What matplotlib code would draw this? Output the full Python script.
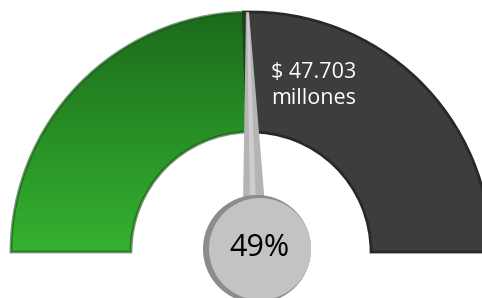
import numpy as np
import matplotlib
matplotlib.use("Agg")
import matplotlib.pyplot as plt
from matplotlib.patches import Wedge, Circle, Polygon

# datos del indicador
porcentaje = 49
monto = "$ 47.703"
unidad = "millones"

plt.rcParams['font.family'] = ['Open Sans', 'DejaVu Sans']

fig = plt.figure(figsize=(4.82, 2.98), dpi=100)
ax = fig.add_axes([0, 0, 1, 1])
ax.set_xlim(0, 482)
ax.set_ylim(298, 0)
ax.axis('off')

# centro y radios del medidor (en pixeles, eje y invertido -> angulos 180..360 hacia arriba)
cx, cy = 251, 252
r_ext, ancho = 240, 120
ang = 180 + porcentaje / 100 * 180

# parte verde con degradado vertical
verde = Wedge((cx, cy), r_ext, 180, ang, width=ancho, facecolor='none', edgecolor='none')
ax.add_patch(verde)
top = np.array([0x1b, 0x6b, 0x1b]) / 255
bot = np.array([0x35, 0xb2, 0x30]) / 255
t = np.linspace(0, 1, 200)[:, None]
grad = top * (1 - t) + bot * t
grad = np.repeat(grad[:, None, :], 2, axis=1)
im = ax.imshow(grad, extent=(cx - r_ext, cx + r_ext, cy, cy - r_ext), aspect='auto', zorder=1)
im.set_clip_path(verde)
ax.add_patch(Wedge((cx, cy), r_ext, 180, ang, width=ancho, facecolor='none',
                   edgecolor='#145214', linewidth=2, alpha=0.6, zorder=2))

# parte gris oscura
ax.add_patch(Wedge((cx, cy), r_ext, ang, 360, width=ancho, facecolor='#3d3d3d',
                   edgecolor='#282828', linewidth=2, zorder=1))

# aguja
aguja = Polygon([(246, 12), (249, 12), (265, 205), (243, 205)], closed=True,
                facecolor='#b4b4b4', edgecolor='none', zorder=3)
ax.add_patch(aguja)
ax.add_patch(Polygon([(247, 14), (249, 14), (256, 205), (250, 205)], closed=True,
                     facecolor='#cdcdcd', edgecolor='none', zorder=3))

# circulo central
ccx, ccy, rc = 257, 249, 54
ax.add_patch(Circle((ccx, ccy), rc, facecolor='#8c8c8c', edgecolor='none', zorder=4))
ax.add_patch(Circle((ccx + 3, ccy), rc - 3, facecolor='#c3c3c3', edgecolor='none', zorder=5))

ax.text(ccx + 2, ccy - 1, f"{porcentaje}%", fontsize=22, color='black',
        ha='center', va='center', zorder=6)

ax.text(271, 72, monto, fontsize=15.5, color='white', ha='left', va='center', zorder=6)
ax.text(271, 98, unidad, fontsize=15.5, color='white', ha='left', va='center', zorder=6)

fig.savefig('out.png', dpi=100)
